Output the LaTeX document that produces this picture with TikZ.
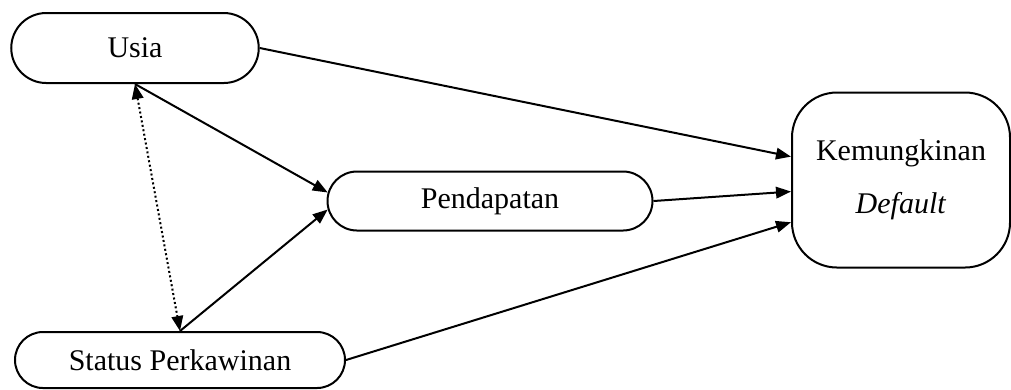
\documentclass[tikz,border=0pt]{standalone}
\usepackage{fontspec}
\setmainfont{Liberation Serif}
\usetikzlibrary{
    arrows.meta,
    shapes.misc,
    positioning
}

\begin{document}
\begin{tikzpicture}[x=0.4pt, y=-0.4pt,
        var/.style={draw, rounded rectangle, line width=0.8pt, inner sep=0pt,
            font=\fontsize{12}{14}\selectfont},
        dv/.style={draw, rectangle, rounded corners=18pt, line width=0.8pt, inner sep=0pt,
            align=center, font=\fontsize{12}{14}\selectfont},
        arr/.style={-{Triangle[length=6pt, width=4.6pt]}, line width=0.8pt},
        corr/.style={{Triangle[length=6pt, width=4.6pt]}-{Triangle[length=6pt, width=4.6pt]},
            densely dotted, line width=0.8pt}]
    \useasboundingbox (0, 0) rectangle (1011, 389);

    \node[var, minimum width=99pt, minimum height=28pt] (usia) at (135, 48) {Usia};
    \node[var, minimum width=130pt, minimum height=23.6pt] (pend) at (490, 201) {Pendapatan};
    \node[var, minimum width=132pt, minimum height=22.4pt] (status) at (180, 360) {Status Perkawinan};
    \node[dv, minimum width=87.2pt, minimum height=70pt] (kd) at (901, 180) {Kemungkinan\\[7pt]\textit{Default}};

    \draw
    (usia.east) edge[arr] (kd.168)
    (usia.south) edge[arr] (pend.177)
    (status.north) edge[arr] (pend.183)
    (usia.south) edge[corr] (status.north)
    (pend.east) edge[arr] (kd.186)
    (status.east) edge[arr] (kd.201);
\end{tikzpicture}
\end{document}
